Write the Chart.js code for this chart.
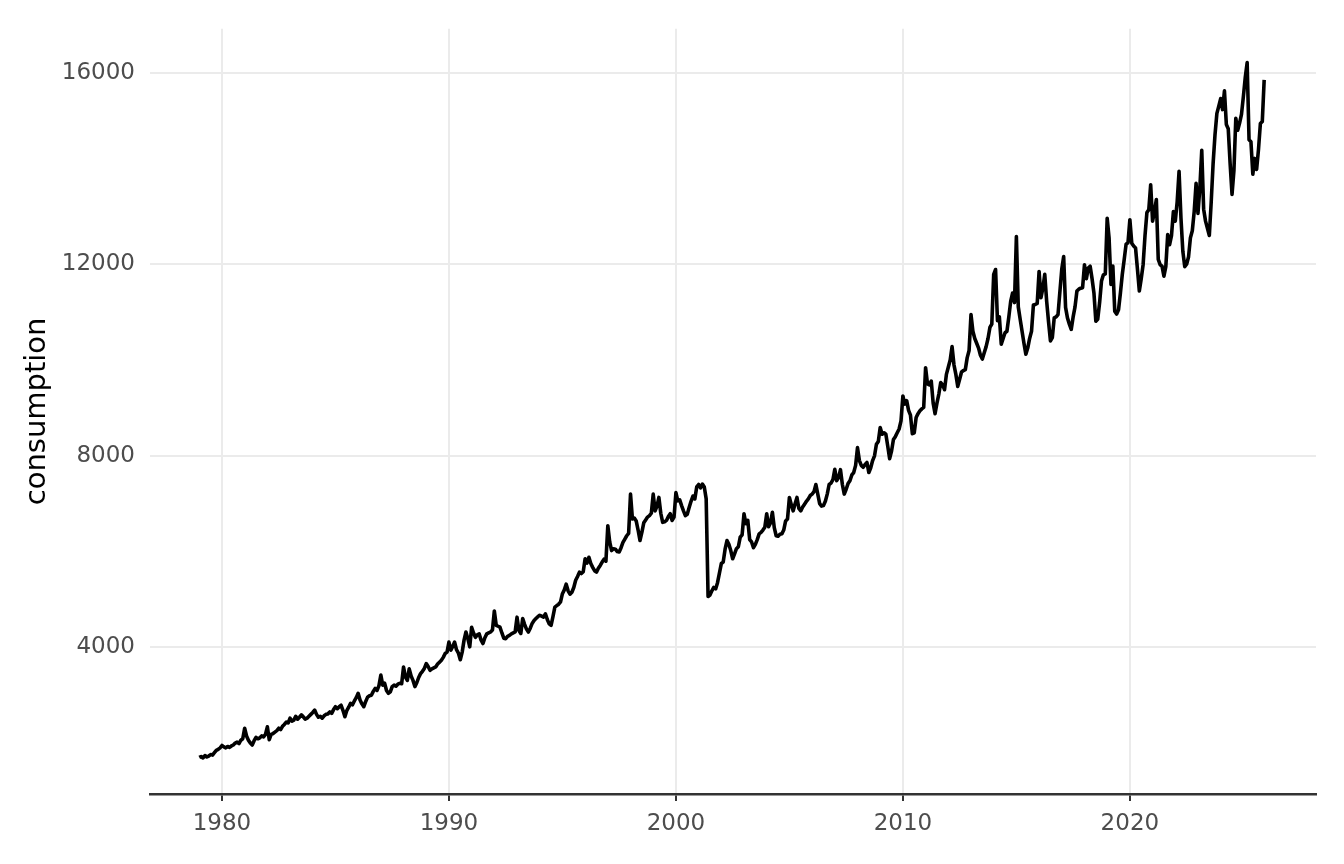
<!DOCTYPE html>
<html>
<head>
<meta charset="utf-8">
<script src="https://cdn.jsdelivr.net/npm/chart.js@4.4.1/dist/chart.umd.min.js"></script>
<style>
  html, body { margin: 0; padding: 0; background: #fff; }
  canvas { display: block; }
</style>
</head>
<body>
<canvas id="chart" width="1344" height="864"></canvas>
<script>
// monthly consumption (Jan 1979 .. Dec 2025)
const startYear = 1979;

const cons1979 = [1700, 1720, 1690, 1740, 1710, 1730, 1760, 1750, 1800, 1850, 1870, 1900];

const cons1980s = [
  1950, 1920, 1900, 1930, 1910, 1940, 1960, 2000, 2020, 1990, 2060, 2090,
  2310, 2150, 2060, 2000, 1960, 2050, 2120, 2090, 2110, 2150, 2130, 2180,
  2340, 2070, 2180, 2200, 2230, 2260, 2310, 2280, 2350, 2390, 2440, 2420,
  2520, 2460, 2480, 2560, 2500, 2540, 2590, 2550, 2500, 2520, 2560, 2600,
  2640, 2690, 2600, 2540, 2560, 2520, 2570, 2600, 2610, 2650, 2620, 2700,
  2760, 2720, 2760, 2790, 2680, 2550, 2680, 2750, 2830, 2800, 2880, 2950,
  3040, 2900, 2820, 2760, 2870, 2960, 2990, 3000, 3080, 3140, 3100, 3200,
  3420, 3210, 3250, 3100, 3040, 3070, 3180, 3210, 3190, 3230, 3250, 3240,
  3590, 3380, 3310, 3550, 3400, 3310, 3180, 3260, 3370, 3450, 3500, 3560,
  3660, 3600, 3520, 3550, 3570, 3590, 3650, 3690, 3730, 3790, 3870, 3900
];

const cons1990s = [
  4110, 3940, 4020, 4110, 3950, 3880, 3740, 3900, 4150, 4320, 4180, 4010,
  4420, 4300, 4210, 4260, 4280, 4150, 4080, 4200, 4280, 4300, 4320, 4360,
  4760, 4460, 4440, 4420, 4300, 4190, 4180, 4230, 4250, 4280, 4300, 4320,
  4630, 4350, 4290, 4600, 4480, 4380, 4320, 4400, 4500, 4560, 4600, 4640,
  4670, 4650, 4630, 4700, 4580, 4490, 4460, 4640, 4840, 4870, 4900, 4950,
  5120, 5200, 5320, 5180, 5110, 5150, 5250, 5400, 5480, 5570, 5540, 5580,
  5850, 5760, 5880, 5750, 5670, 5600, 5570, 5650, 5710, 5780, 5840, 5800,
  6540, 6200, 6020, 6060, 6050, 6000, 5990, 6080, 6190, 6260, 6330, 6380,
  7200, 6680, 6700, 6640, 6450, 6230, 6400, 6600, 6660, 6720, 6750, 6800,
  7200, 6850, 6950, 7130, 6800, 6610, 6620, 6650, 6730, 6790, 6650, 6720
];

const cons2000s = [
  7230, 7060, 7080, 6960, 6850, 6750, 6780, 6920, 7050, 7160, 7100, 7350,
  7400, 7330, 7410, 7350, 7100, 5060, 5090, 5180, 5250, 5220, 5350, 5550,
  5750, 5780, 6050, 6230, 6150, 6020, 5850, 5950, 6060, 6100, 6300, 6350,
  6790, 6580, 6650, 6250, 6200, 6080, 6150, 6250, 6370, 6400, 6450, 6510,
  6790, 6520, 6600, 6820, 6500, 6330, 6320, 6360, 6370, 6450, 6640, 6680,
  7130, 6980, 6850, 7000, 7130, 6900, 6850, 6930, 6990, 7050, 7100, 7170,
  7200, 7250, 7400, 7200, 7000, 6950, 6960, 7050, 7200, 7400, 7430, 7500,
  7720, 7480, 7550, 7710, 7400, 7200, 7300, 7420, 7480, 7600, 7650, 7800,
  8170, 7900, 7800, 7760, 7820, 7860, 7650, 7750, 7900, 8000, 8240, 8300,
  8590, 8450, 8480, 8450, 8200, 7940, 8100, 8340, 8400, 8480, 8560, 8730
];

const cons2010s = [
  9250, 9080, 9150, 8950, 8850, 8460, 8480, 8800, 8880, 8940, 8980, 9010,
  9840, 9500, 9480, 9560, 9100, 8880, 9100, 9290, 9530, 9480, 9380, 9700,
  9850, 10000, 10280, 9900, 9700, 9450, 9600, 9750, 9780, 9800, 10050, 10200,
  10950, 10600, 10450, 10350, 10250, 10100, 10020, 10150, 10280, 10450, 10680, 10750,
  11790, 11890, 10820, 10900, 10330, 10450, 10570, 10600, 10900, 11230, 11400, 11200,
  12580, 11110, 10850, 10600, 10350, 10120, 10250, 10450, 10600, 11150, 11160, 11180,
  11850, 11300, 11500, 11790, 11230, 10800, 10400, 10470, 10880, 10900, 10950, 11430,
  11900, 12160, 11100, 10880, 10750, 10640, 10900, 11110, 11440, 11480, 11500, 11510,
  11990, 11700, 11920, 11960, 11700, 11400, 10810, 10850, 11200, 11650, 11780, 11800,
  12960, 12550, 11580, 11960, 11020, 10960, 11050, 11400, 11790, 12100, 12420, 12450
];

const cons2020s = [
  12930, 12440, 12380, 12340, 11900, 11440, 11700, 11990, 12600, 13080, 13140, 13660,
  12900, 13100, 13350, 12100, 11990, 11960, 11750, 11950, 12620, 12410, 12600, 13100,
  12900, 13300, 13940, 12970, 12270, 11950, 12000, 12150, 12550, 12700, 13100, 13690,
  13060, 13600, 14380, 13150, 12900, 12750, 12600, 13300, 14100, 14700, 15150, 15300,
  15460, 15230, 15620, 14920, 14830, 14100, 13460, 13950, 15050, 14800, 14950, 15130,
  15500, 15900, 16210, 14600, 14560, 13880, 14210, 13980, 14400, 14940, 14980, 15850
];

const xTicks = [1980, 1990, 2000, 2010, 2020];
const yTicks = [4000, 8000, 12000, 16000];

// months -> decimal years
const consumption = [].concat(cons1979, cons1980s, cons1990s, cons2000s, cons2010s, cons2020s);
const points = consumption.map((v, i) => ({ x: startYear + i / 12, y: v }));

const tickFont = { family: 'DejaVu Sans', size: 23 };

new Chart(document.getElementById('chart'), {
  type: 'line',
  data: {
    datasets: [{
      data: points,
      borderColor: '#000000',
      borderWidth: 3.6,
      borderJoinStyle: 'round',
      pointRadius: 0,
      tension: 0,
      fill: false
    }]
  },
  options: {
    responsive: false,
    devicePixelRatio: 1,
    animation: false,
    layout: { padding: { top: 25, right: 28, bottom: 0, left: 0 } },
    plugins: { legend: { display: false }, tooltip: { enabled: false } },
    scales: {
      x: {
        type: 'linear',
        min: 1976.83,
        max: 2028.2,
        afterBuildTicks: s => { s.ticks = xTicks.map(v => ({ value: v })); },
        afterFit: s => { s.height = 70; },
        grid: {
          color: '#ebebeb',
          lineWidth: 2,
          drawTicks: true,
          tickLength: 7,
          tickColor: '#333333',
          tickWidth: 2
        },
        border: { display: true, color: '#333333', width: 2.5 },
        ticks: {
          font: tickFont,
          color: '#4d4d4d',
          padding: 9,
          maxRotation: 0,
          callback: v => String(v)
        }
      },
      y: {
        min: 937,
        max: 16917,
        afterBuildTicks: s => { s.ticks = yTicks.map(v => ({ value: v })); },
        afterFit: s => { s.width = 150; },
        grid: { color: '#ebebeb', lineWidth: 2, drawTicks: false },
        border: { display: false },
        ticks: {
          font: tickFont,
          color: '#4d4d4d',
          padding: 15,
          callback: v => String(v)
        },
        title: {
          display: true,
          text: 'consumption',
          color: '#000000',
          font: { family: 'DejaVu Sans', size: 29 },
          padding: { top: 20, bottom: 0 }
        }
      }
    }
  }
});
</script>
</body>
</html>
